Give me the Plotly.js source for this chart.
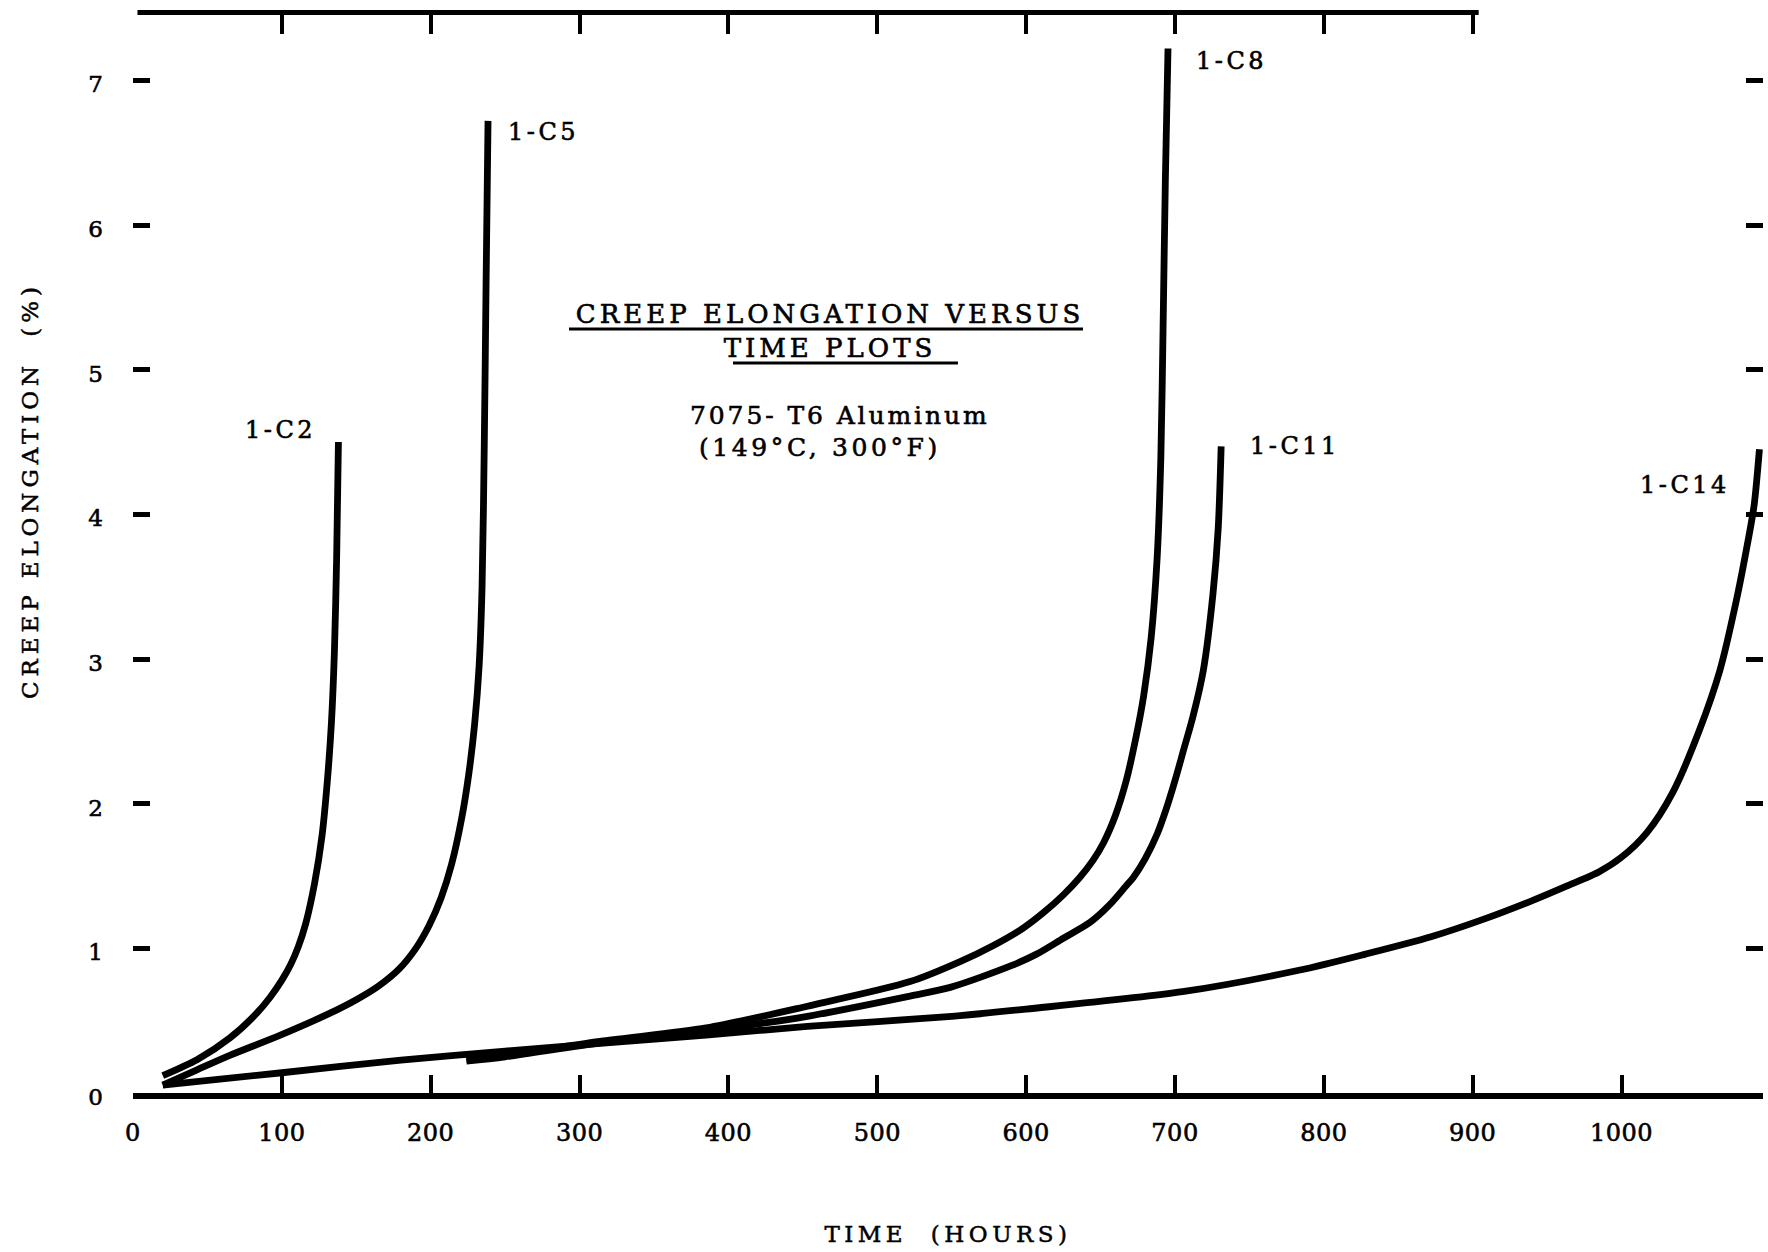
<!DOCTYPE html>
<html>
<head>
<meta charset="utf-8">
<script src="https://cdn.plot.ly/plotly-3.0.1.min.js"></script>
<style>html,body{margin:0;padding:0;background:#fff;}</style>
</head>
<body>
<div id="chart" style="width:1768px;height:1252px;"></div>
<script>
// ---- data (time in hours, creep elongation in %) ----
const hoursC2  = [20, 43, 65, 83, 92, 100, 106, 111, 116, 122, 127, 130.5, 133.3, 135.3, 136.8, 138];
const elongC2  = [0.12, 0.23, 0.38, 0.55, 0.66, 0.78, 0.89, 1.01, 1.17, 1.45, 1.78, 2.15, 2.56, 3.05, 3.7, 4.5];

const hoursC5  = [20, 43, 65, 99, 132, 150, 165, 179, 190, 199, 207, 214, 221, 225.5, 229.5, 232.5, 234.5, 236, 237.2, 238.5];
const elongC5  = [0.055, 0.16, 0.26, 0.40, 0.55, 0.645, 0.74, 0.86, 1.0, 1.16, 1.35, 1.58, 1.91, 2.2, 2.55, 2.95, 3.5, 4.5, 5.6, 6.72];

const hoursC8  = [224, 250, 316, 385, 453, 522, 556, 578, 598, 612, 625, 636, 645, 652, 660, 667, 674, 679, 684, 688, 690.5, 692, 693.5, 695.3];
const elongC8  = [0.23, 0.26, 0.36, 0.45, 0.60, 0.77, 0.91, 1.02, 1.14, 1.25, 1.37, 1.49, 1.61, 1.73, 1.92, 2.15, 2.47, 2.75, 3.15, 3.7, 4.4, 5.3, 6.3, 7.22];

const hoursC11 = [224, 250, 316, 385, 453, 522, 549, 590, 607, 625, 643, 656, 667, 672, 680, 688, 694, 700, 706, 712, 719, 725.5, 729, 731];
const elongC11 = [0.22, 0.25, 0.35, 0.43, 0.53, 0.67, 0.73, 0.88, 0.96, 1.07, 1.18, 1.30, 1.43, 1.49, 1.62, 1.79, 1.96, 2.16, 2.38, 2.6, 2.92, 3.45, 3.9, 4.47];

const hoursC14 = [20, 100, 180, 250, 316, 385, 453, 550, 600, 705, 784, 828, 872, 907, 940, 963, 985, 1000, 1017, 1034.5, 1052, 1066, 1077, 1085, 1089, 1092.6];
const elongC14 = [0.055, 0.14, 0.228, 0.29, 0.345, 0.40, 0.46, 0.53, 0.58, 0.70, 0.85, 0.96, 1.08, 1.2, 1.33, 1.43, 1.53, 1.63, 1.8, 2.08, 2.5, 2.92, 3.4, 3.82, 4.06, 4.45];

const specimenNames = ['1-C2', '1-C5', '1-C8', '1-C11', '1-C14'];

const xTickVals  = [0, 100, 200, 300, 400, 500, 600, 700, 800, 900, 1000];
const xTickText  = ['0', '100', '200', '300', '400', '500', '600', '700', '800', '900', '1000'];
const xMarkVals  = [100, 200, 300, 400, 500, 600, 700, 800, 900, 1000];
const topMarkVals = [100, 200, 300, 400, 500, 600, 700, 800, 900];
const yTickVals  = [0, 1, 2, 3, 4, 5, 6, 7];
const yTickText  = ['0', '1', '2', '3', '4', '5', '6', '7'];

const titleLines = ['CREEP ELONGATION VERSUS', 'TIME PLOTS'];
const materialText = '7075- T6 Aluminum';
const conditionText = '(149°C, 300°F)';
const xTitleText = 'TIME  (HOURS)';
const yTitleText = 'CREEP ELONGATION  (%)';

// ---- drawing ----
const FONT = 'DejaVu Serif, Liberation Serif, serif';
const ls = (t, px, sw) => '<span style="letter-spacing:' + px + 'px;stroke:#000;stroke-width:' + (sw === undefined ? 0.6 : sw) + 'px">' + t + '</span>';

const seriesX = [hoursC2, hoursC5, hoursC8, hoursC11, hoursC14];
const seriesY = [elongC2, elongC5, elongC8, elongC11, elongC14];

const traces = seriesX.map((xs, i) => ({
  type: 'scatter', mode: 'lines', name: specimenNames[i],
  x: xs, y: seriesY[i],
  line: {color: '#000', width: 6.8, shape: 'spline', smoothing: 0.8},
  hoverinfo: 'skip', showlegend: false
}));
// empty helpers so the tick-only axes are attached
traces.push({type: 'scatter', mode: 'lines', x: [], y: [], xaxis: 'x2', yaxis: 'y', showlegend: false, hoverinfo: 'skip'});
traces.push({type: 'scatter', mode: 'lines', x: [], y: [], xaxis: 'x3', yaxis: 'y', showlegend: false, hoverinfo: 'skip'});

// curve labels placed relative to each curve's last point
const labelPlacement = [
  {xanchor: 'right', xshift: -20, yshift: 12},
  {xanchor: 'left',  xshift: 18,  yshift: -11},
  {xanchor: 'left',  xshift: 26,  yshift: -12},
  {xanchor: 'left',  xshift: 27,  yshift: 0},
  {xanchor: 'right', xshift: -27, yshift: -36}
];
const curveLabels = specimenNames.map((n, i) => Object.assign({
  text: ls(n, 3.5), x: seriesX[i][seriesX[i].length - 1], y: seriesY[i][seriesY[i].length - 1],
  xref: 'x', yref: 'y', showarrow: false, yanchor: 'middle',
  font: {family: FONT, size: 24, color: '#000'}
}, labelPlacement[i]));

const XR = [0, 1095];
const layout = {
  width: 1768, height: 1252,
  margin: {l: 133, r: 5, t: 8, b: 159, pad: 0},
  paper_bgcolor: '#fff', plot_bgcolor: '#fff',
  showlegend: false,
  font: {family: FONT, color: '#000'},
  title: {
    text: titleLines.map(t => ls(t, 4)).join('<br>'),
    xref: 'paper', yref: 'paper', x: 0.4276, y: 0.7097,
    xanchor: 'center', yanchor: 'middle',
    font: {family: FONT, size: 26, color: '#000'}
  },
  xaxis: {
    range: XR, showgrid: false, zeroline: false,
    showline: true, linewidth: 6, linecolor: '#000',
    ticks: '', tickmode: 'array', tickvals: xTickVals, ticktext: xTickText.map(t => ls(t, 0.5)),
    tickfont: {family: FONT, size: 24, color: '#000'}, ticklabelstandoff: 13,
    title: {text: ls(xTitleText, 4.5, 0.5), font: {family: FONT, size: 23, color: '#000'}, standoff: 82}
  },
  xaxis3: {
    overlaying: 'x', side: 'bottom', anchor: 'y', range: XR,
    showgrid: false, zeroline: false, showline: false, showticklabels: false,
    ticks: 'inside', ticklen: 18, tickwidth: 4, tickcolor: '#000',
    tickmode: 'array', tickvals: xMarkVals
  },
  xaxis2: {
    overlaying: 'x', side: 'top', anchor: 'free', position: 0.99585, range: XR,
    showgrid: false, zeroline: false, showline: false, showticklabels: false,
    ticks: 'inside', ticklen: 20, tickwidth: 4, tickcolor: '#000',
    tickmode: 'array', tickvals: topMarkVals
  },
  yaxis: {
    range: [0, 7.5], showgrid: false, zeroline: false, showline: false,
    ticks: 'inside', ticklen: 17, tickwidth: 5, tickcolor: '#000', mirror: 'ticks',
    tickmode: 'array', tickvals: yTickVals, ticktext: yTickText.map(t => ls(t, 0)),
    tickfont: {family: FONT, size: 23, color: '#000'},
    ticklabelstandoff: 29, ticklabelshift: 4
  },
  shapes: [
    {type: 'line', xref: 'x', yref: 'paper', x0: 3, x1: 904, y0: 0.99585, y1: 0.99585, line: {color: '#000', width: 5}},
    {type: 'line', xref: 'paper', yref: 'paper', x0: 0.2675, x1: 0.5828, y0: 0.7041, y1: 0.7041, line: {color: '#000', width: 3}},
    {type: 'line', xref: 'paper', yref: 'paper', x0: 0.3681, x1: 0.5061, y0: 0.6728, y1: 0.6728, line: {color: '#000', width: 3}}
  ],
  annotations: [
    {text: ls(yTitleText, 4.9, 0.5), textangle: -90, xref: 'paper', yref: 'paper', x: -0.0632, y: 0.5558,
     xanchor: 'center', yanchor: 'middle', showarrow: false, font: {family: FONT, size: 23, color: '#000'}},
    {text: ls(materialText, 2.9), xref: 'paper', yref: 'paper', x: 0.4337, y: 0.624,
     xanchor: 'center', yanchor: 'middle', showarrow: false, font: {family: FONT, size: 25, color: '#000'}},
    {text: ls(conditionText, 3.6), xref: 'paper', yref: 'paper', x: 0.4215, y: 0.5945,
     xanchor: 'center', yanchor: 'middle', showarrow: false, font: {family: FONT, size: 25, color: '#000'}}
  ].concat(curveLabels)
};

Plotly.newPlot('chart', traces, layout, {staticPlot: true, displayModeBar: false});
</script>
</body>
</html>
